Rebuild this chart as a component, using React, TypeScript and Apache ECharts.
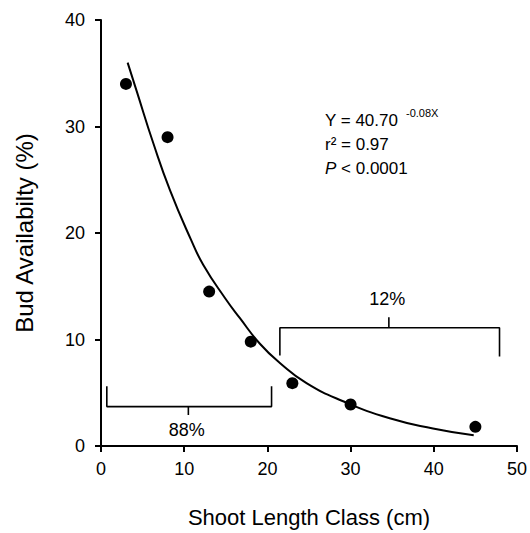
import React, { useEffect, useRef } from "react";
import * as echarts from "echarts";

// Observed data (shoot length class midpoints, bud availability %)
const shootLength = [3, 8, 13, 18, 23, 30, 45];
const budAvailability = [34.0, 29.0, 14.5, 9.8, 5.9, 3.9, 1.8];

// Fitted curve
const fitX = [3.2, 4.3, 6.3, 8.3, 10.8, 12.3, 14.9, 16.7, 19.1, 21.5, 24.7, 29.1, 34.7, 39.9, 44.8];
const fitY = [36.0, 33.3, 28.4, 24.0, 19.4, 17.0, 13.9, 12.0, 9.6, 7.8, 5.9, 4.2, 2.6, 1.65, 1.0];

// Brackets (data coordinates)
const bracketLowX = [0.7, 0.7, 10.5, 10.5, 10.5, 20.5, 20.5];
const bracketLowY = [5.6, 3.7, 3.7, 2.9, 3.7, 3.7, 5.6];
const bracketHighX = [21.5, 21.5, 34.6, 34.6, 34.6, 47.9, 47.9];
const bracketHighY = [8.5, 11.1, 11.1, 12.1, 11.1, 11.1, 8.4];
const bracketLabels = ["88%", "12%"];
const bracketLabelX = [10.3, 34.4];
const bracketLabelY = [1.5, 13.8];

const xTicks = [0, 10, 20, 30, 40, 50];
const yTicks = [0, 10, 20, 30, 40];

const FONT = "'Liberation Sans', Arial, Helvetica, sans-serif";

export default function App() {
  const ref = useRef<HTMLDivElement>(null);
  useEffect(() => {
    if (!ref.current) return;
    const chart = echarts.init(ref.current, undefined, { renderer: "svg" });
    const zip = (xs: number[], ys: number[]) => xs.map((x, i) => [x, ys[i]]);
    const axisCommon = {
      type: "value" as const,
      axisLine: { show: true, onZero: false, lineStyle: { color: "#000", width: 2 } },
      axisTick: { show: true, inside: false, length: 6, lineStyle: { color: "#000", width: 2 } },
      splitLine: { show: false },
      axisLabel: { color: "#000", fontSize: 18, fontFamily: FONT },
      nameLocation: "middle" as const,
    };
    chart.setOption({
      animation: false,
      backgroundColor: "#fff",
      grid: { left: 101, right: 12, top: 20, bottom: 85, containLabel: false },
      xAxis: {
        ...axisCommon,
        min: xTicks[0],
        max: xTicks[xTicks.length - 1],
        interval: 10,
        name: "Shoot Length Class (cm)",
        nameGap: 60,
        nameTextStyle: { color: "#000", fontSize: 22, fontFamily: FONT },
        axisLabel: { ...axisCommon.axisLabel, margin: 14 },
      },
      yAxis: {
        ...axisCommon,
        min: yTicks[0],
        max: yTicks[yTicks.length - 1],
        interval: 10,
        name: "Bud Availabilty (%)",
        nameGap: 65,
        nameTextStyle: { color: "#000", fontSize: 24, fontFamily: FONT },
        axisLabel: { ...axisCommon.axisLabel, margin: 16 },
      },
      series: [
        {
          type: "line",
          data: zip(fitX, fitY),
          smooth: 0.5,
          symbol: "none",
          lineStyle: { color: "#000", width: 2 },
          z: 2,
        },
        {
          type: "scatter",
          data: zip(shootLength, budAvailability),
          symbol: "circle",
          symbolSize: 12,
          itemStyle: { color: "#000", opacity: 1 },
          z: 3,
        },
        {
          type: "line",
          data: zip(bracketLowX, bracketLowY),
          symbol: "none",
          lineStyle: { color: "#000", width: 1.6 },
        },
        {
          type: "line",
          data: zip(bracketHighX, bracketHighY),
          symbol: "none",
          lineStyle: { color: "#000", width: 1.6 },
        },
        {
          type: "scatter",
          data: bracketLabels.map((n, i) => ({ name: n, value: [bracketLabelX[i], bracketLabelY[i]] })),
          symbolSize: 1,
          itemStyle: { color: "#fff", opacity: 1 },
          label: {
            show: true,
            position: "inside",
            formatter: "{b}",
            color: "#000",
            opacity: 1,
            fontSize: 18,
            fontFamily: FONT,
          },
          z: 4,
        },
      ],
      graphic: [
        {
          type: "text",
          x: 325,
          y: 120,
          style: { text: "Y = 40.70", fontSize: 17, fontFamily: FONT, fill: "#000", verticalAlign: "middle", align: "left" },
        },
        {
          type: "text",
          x: 406,
          y: 113,
          style: { text: "-0.08X", fontSize: 11, fontFamily: FONT, fill: "#000", verticalAlign: "middle", align: "left" },
        },
        {
          type: "text",
          x: 325,
          y: 144,
          style: { text: "r\u00B2 = 0.97", fontSize: 17, fontFamily: FONT, fill: "#000", verticalAlign: "middle", align: "left" },
        },
        {
          type: "text",
          x: 325,
          y: 168,
          style: {
            text: "{i|P} < 0.0001",
            fontSize: 17,
            fontFamily: FONT,
            fill: "#000",
            verticalAlign: "middle",
            align: "left",
            rich: { i: { fontStyle: "italic", fontSize: 17, fontFamily: FONT, fill: "#000" } },
          },
        },
      ],
    });
    return () => chart.dispose();
  }, []);
  return (
    <div
      ref={ref}
      style={{ position: "absolute", left: 0, top: 0, width: 530, height: 533, background: "#fff" }}
    />
  );
}
